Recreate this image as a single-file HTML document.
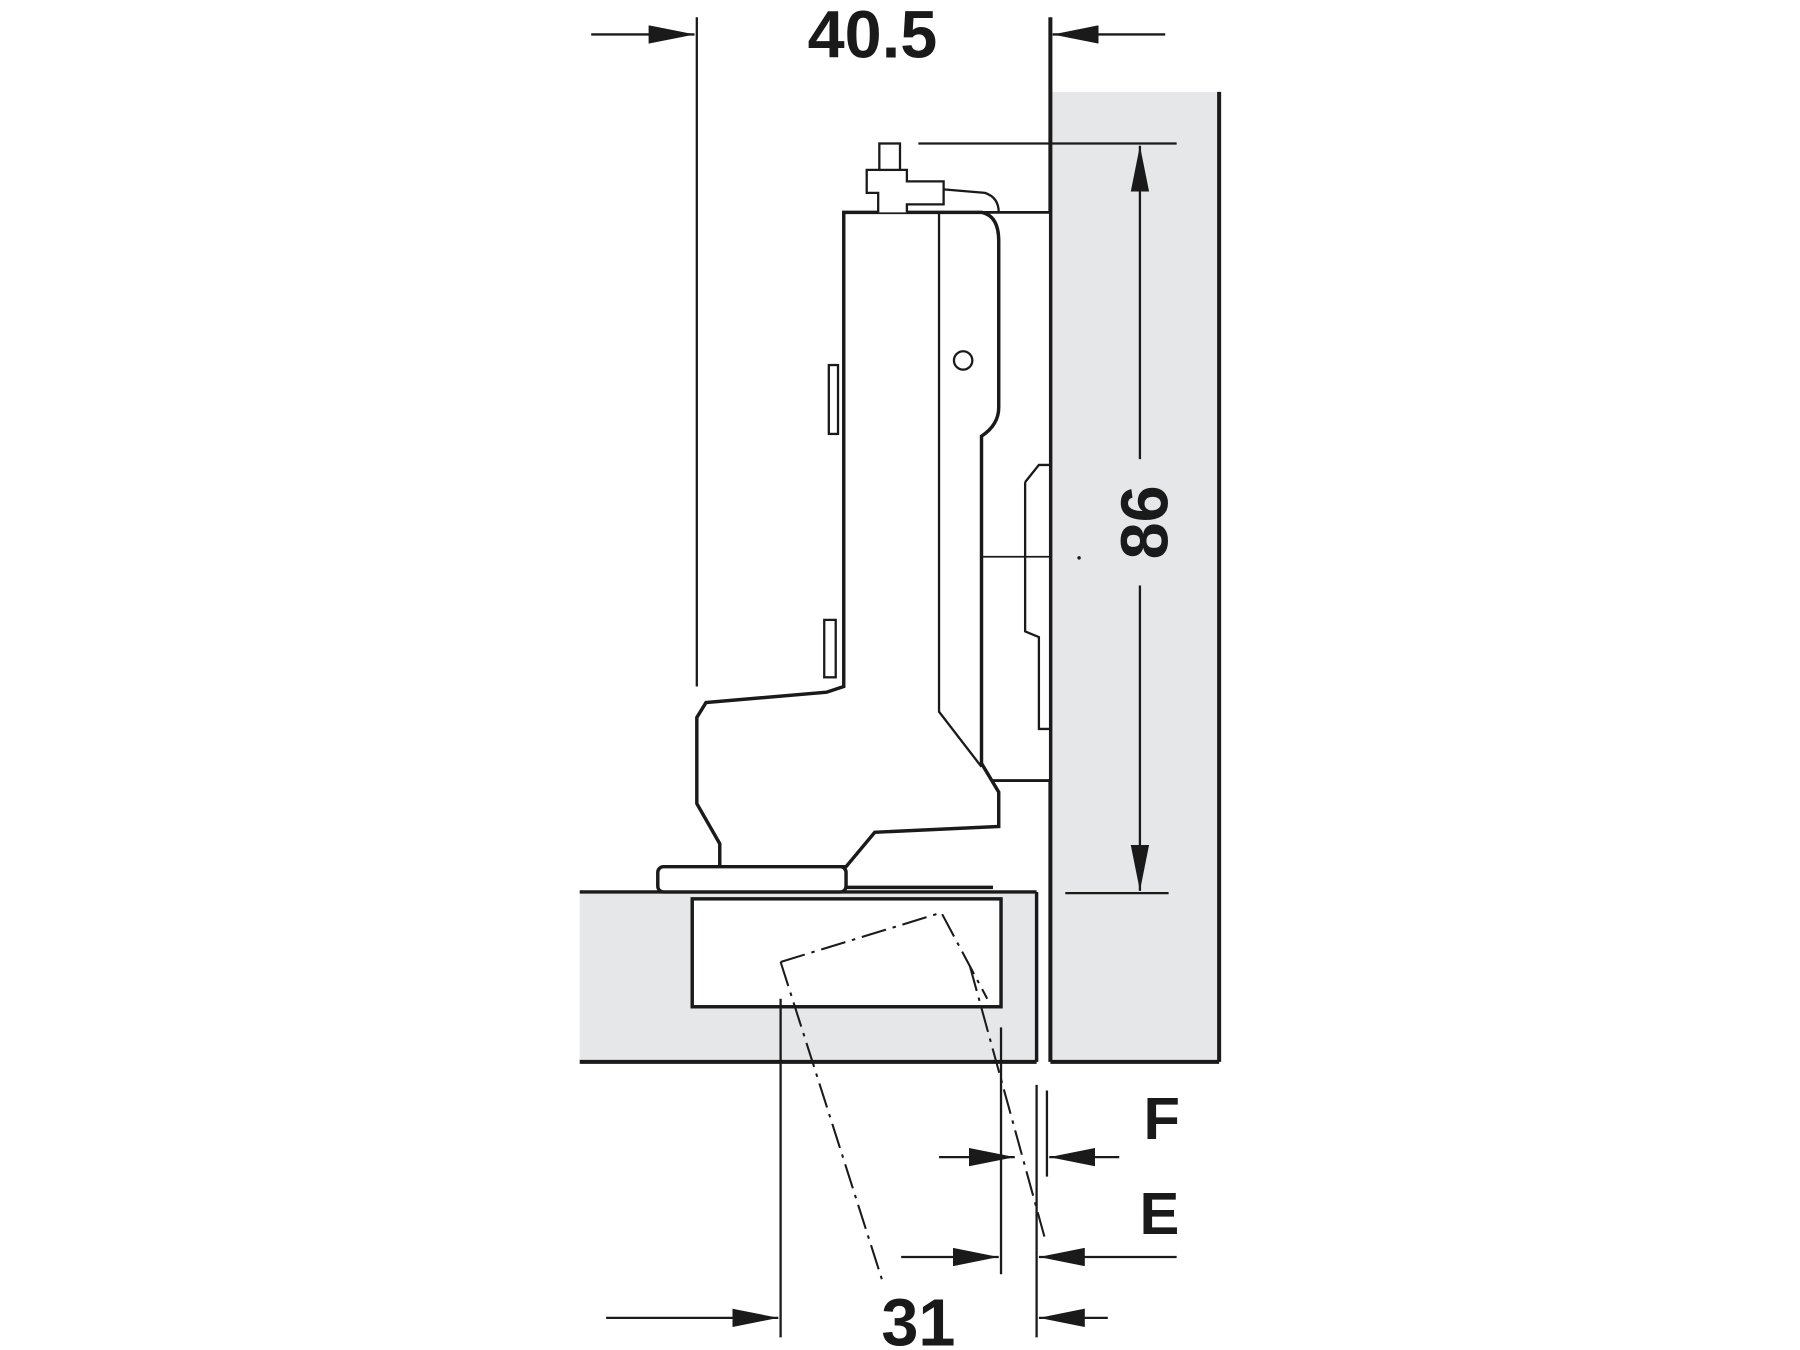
<!DOCTYPE html>
<html><head><meta charset="utf-8"><style>
html,body{margin:0;padding:0;background:#fff;width:1800px;height:1350px;overflow:hidden}
svg{display:block}
text{font-family:"Liberation Sans",sans-serif;font-weight:bold;fill:#1a1a1a}
</style></head><body>
<svg width="1800" height="1350" viewBox="0 0 1568 1176" preserveAspectRatio="none" xmlns="http://www.w3.org/2000/svg">
<defs>
<marker id="a" markerWidth="10" markerHeight="8" refX="10" refY="4" orient="auto" markerUnits="userSpaceOnUse" viewBox="0 0 10 8"><path d="M0,0 L10,4 L0,8 z" fill="#1a1a1a"/></marker>
<marker id="A" markerWidth="40" markerHeight="16" refX="40" refY="8" orient="auto" markerUnits="userSpaceOnUse" viewBox="0 0 40 16"><path d="M0,0 L40,8 L0,16 z" fill="#1a1a1a"/></marker>
</defs>
<g stroke="#1a1a1a" fill="none" stroke-width="2.5">
<!-- door panel -->
<rect x="915" y="80" width="147" height="845" fill="#e6e7e8" stroke="none"/>
<line x1="915" y1="15" x2="915" y2="925" stroke-width="3.5"/>
<line x1="1062" y1="80" x2="1062" y2="925" stroke-width="3.5"/>
<line x1="915" y1="925" x2="1062" y2="925" stroke-width="3.5"/>
<!-- cabinet side -->
<rect x="505" y="777" width="398" height="148" fill="#e6e7e8" stroke="none"/>
<line x1="505" y1="777" x2="903" y2="777" stroke-width="3"/>
<line x1="505" y1="925" x2="903" y2="925" stroke-width="3.5"/>
<line x1="903" y1="777" x2="903" y2="925" stroke-width="3"/>
<rect x="603" y="783" width="269" height="94" fill="#fff" stroke-width="3"/>
<!-- mounting plate -->
<path d="M855,185 L915,185 L915,680 L855,680" fill="#fff"/>
<path d="M893,420 L905,405 L915,405 M893,420 L893,550 L905,555 L905,635 L915,635" stroke-width="2"/>
<line x1="855" y1="485" x2="915" y2="485" stroke-width="1.5"/>
<!-- hinge arm -->
<path d="M735,185 L855,185 Q870,188 870,210 L870,355 Q870,370 855,380 L855,665 L870,690 L870,720 L762,725 L737,755 L627,755 L627,735 L607,700 L607,625 L615,612 L720,603 L735,598 Z" fill="#fff" stroke-width="3"/>
<path d="M818,185 L818,620 L855,668" stroke-width="2"/>
<circle cx="839" cy="314" r="8" stroke-width="2"/>
<rect x="722" y="318" width="8" height="60" fill="#fff" stroke-width="2"/>
<rect x="718" y="540" width="10" height="50" fill="#fff" stroke-width="2"/>
<!-- adjusting screw -->
<path d="M765,185 L765,168 L755,168 L755,148 L790,148 L790,158 L822,158 L822,178 L790,178 L790,185" fill="#fff" stroke-width="2"/>
<rect x="766" y="125" width="18" height="23" fill="#fff" stroke-width="2"/>
<path d="M822,165 L858,168 Q870,172 870,185" stroke-width="2"/>
<!-- base plate -->
<rect x="573" y="755" width="164" height="22" rx="5" fill="#fff" stroke-width="3"/>
<line x1="737" y1="773" x2="865" y2="773" stroke-width="3"/>
<!-- dash-dot rotated cup -->
<g stroke-width="1.8" stroke-dasharray="22,6,3,6">
<path d="M680,838 L820,795 L860,870"/>
<line x1="680" y1="838" x2="770" y2="1120"/>
<line x1="845" y1="842" x2="910" y2="1078"/>
</g>
<!-- 40.5 dimension -->
<line x1="607" y1="15" x2="607" y2="598" stroke-width="2"/>
<line x1="515" y1="30" x2="605" y2="30" stroke-width="2" marker-end="url(#A)"/>
<line x1="1015" y1="30" x2="917" y2="30" stroke-width="2" marker-end="url(#A)"/>
<!-- 86 dimension -->
<line x1="800" y1="125" x2="1025" y2="125" stroke-width="2"/>
<line x1="928" y1="778" x2="1018" y2="778" stroke-width="2"/>
<line x1="993" y1="400" x2="993" y2="127" stroke-width="2" marker-end="url(#A)"/>
<line x1="993" y1="510" x2="993" y2="776" stroke-width="2" marker-end="url(#A)"/>
<!-- bottom dims -->
<line x1="680" y1="870" x2="680" y2="1165" stroke-width="2"/>
<line x1="872" y1="895" x2="872" y2="1110" stroke-width="2"/>
<line x1="903" y1="945" x2="903" y2="1165" stroke-width="2"/>
<line x1="912" y1="950" x2="912" y2="1025" stroke-width="2"/>
<line x1="818" y1="1008" x2="884" y2="1008" stroke-width="2" marker-end="url(#A)"/>
<line x1="975" y1="1008" x2="914" y2="1008" stroke-width="2" marker-end="url(#A)"/>
<line x1="785" y1="1095" x2="870" y2="1095" stroke-width="2" marker-end="url(#A)"/>
<line x1="1025" y1="1095" x2="905" y2="1095" stroke-width="2" marker-end="url(#A)"/>
<line x1="528" y1="1148" x2="678" y2="1148" stroke-width="2" marker-end="url(#A)"/>
<line x1="965" y1="1148" x2="905" y2="1148" stroke-width="2" marker-end="url(#A)"/>
</g>
<circle cx="940" cy="486" r="1.5" fill="#1a1a1a"/>
<text x="760" y="50" font-size="58" text-anchor="middle">40.5</text>
<text x="0" y="0" font-size="58" text-anchor="middle" transform="translate(1017,455) rotate(-90)">86</text>
<text x="1012" y="992" font-size="52" text-anchor="middle">F</text>
<text x="1010" y="1075" font-size="52" text-anchor="middle">E</text>
<text x="800" y="1172" font-size="58" text-anchor="middle">31</text>
</svg>
</body></html>
